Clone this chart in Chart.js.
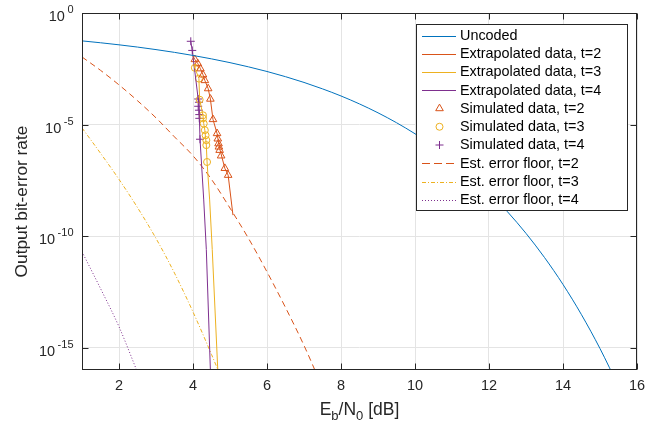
<!DOCTYPE html>
<html>
<head>
<meta charset="utf-8">
<script src="https://cdn.jsdelivr.net/npm/chart.js@4.4.1/dist/chart.umd.min.js"></script>
<style>
html,body{margin:0;padding:0;background:#fff;}
canvas{display:block;}
</style>
</head>
<body>
<canvas id="c" width="667" height="424"></canvas>
<script>
// ---------------- data ----------------
const xTicks = [2, 4, 6, 8, 10, 12, 14, 16];
const yTickExponents = [0, -5, -10, -15];
const xTitle = ['E', 'b', '/N', '0', ' [dB]'];
const yTitle = 'Output bit-error rate';

const uncodedX = [1,1.5,2,2.5,3,3.5,4,4.5,5,5.5,6,6.5,7,7.5,8,8.5,9,9.5,10,10.5,11,11.5,12,12.5,13,13.5,14,14.5,15,15.5];
const uncodedY = [5.63e-2,4.64e-2,3.75e-2,2.97e-2,2.29e-2,1.72e-2,1.25e-2,8.8e-3,5.95e-3,3.86e-3,2.39e-3,1.40e-3,7.73e-4,3.98e-4,1.91e-4,8.4e-5,3.36e-5,1.21e-5,3.87e-6,1.08e-6,2.61e-7,5.3e-8,9.01e-9,1.23e-9,1.33e-10,1.1e-11,6.81e-13,3.0e-14,9.12e-16,1.85e-17];

const extrap2X = [3.99,4.05,4.13,4.20,4.27,4.32,4.41,4.47,4.54,4.65,4.72,4.86,4.95,5.08];
const extrap2Y = [1.26e-2,8.3e-3,5.4e-3,3.2e-3,1.7e-3,9.5e-4,4.1e-4,1.4e-4,1.7e-5,4.0e-6,8.5e-7,1.1e-7,5.4e-8,8.7e-10];

const extrap3X = [4.03,4.05,4.16,4.18,4.27,4.29,4.32,4.36,4.38,4.45,4.52,4.67,4.69];
const extrap3Y = [5.0e-3,3.5e-3,1.15e-3,1.3e-4,2.6e-5,1.1e-5,5.6e-6,1.2e-6,2.1e-7,4.2e-9,2.5e-11,1e-16,5e-17];

const extrap4X = [3.94,3.98,4.14,4.16,4.19,4.29,4.36,4.47,4.49];
const extrap4Y = [5.4e-2,2.1e-2,1.4e-4,1.0e-4,2.2e-6,4.2e-9,2.5e-11,1e-16,1e-17];

const sim2X = [4.05,4.13,4.20,4.27,4.32,4.41,4.47,4.54,4.65,4.67,4.69,4.70,4.72,4.76,4.86,4.95];
const sim2Y = [8.3e-3,5.4e-3,3.2e-3,1.7e-3,9.5e-4,4.1e-4,1.4e-4,1.7e-5,4.0e-6,2.3e-6,1.4e-6,1.0e-6,7.1e-7,4.0e-7,1.1e-7,5.4e-8];

const sim3X = [4.05,4.16,4.18,4.27,4.27,4.29,4.32,4.34,4.36,4.36,4.38];
const sim3Y = [3.5e-3,1.15e-3,1.3e-4,2.6e-5,1.9e-5,1.1e-5,5.6e-6,3.3e-6,2.0e-6,1.2e-6,2.1e-7];

const sim4X = [3.94,3.98,4.14,4.16,4.14,4.16,4.17,4.17,4.19];
const sim4Y = [5.4e-2,2.1e-2,1.4e-4,1.0e-4,6.6e-5,4.4e-5,2.8e-5,1.9e-5,2.2e-6];

const floor2X = [1,1.5,2,2.5,3,3.5,4,4.5,5,5.5,6,6.5,7,7.5];
const floor2Y = [1.07e-2,2.7e-3,6.0e-4,1.17e-4,2.0e-5,2.8e-6,4.0e-7,3.5e-8,1.8e-9,7.9e-11,2.5e-12,6.3e-14,1.26e-15,1.6e-17];

const floor3X = [1,1.5,2,2.5,3,3.5,4,4.5,4.75];
const floor3Y = [7.1e-6,5.2e-7,3.5e-8,1.9e-9,7.9e-11,2.2e-12,4.0e-14,5.0e-16,5.0e-17];

const floor4X = [1,1.5,2,2.5];
const floor4Y = [2.0e-11,4.5e-13,8.7e-15,7.9e-17];

const labels = ['Uncoded','Extrapolated data, t=2','Extrapolated data, t=3','Extrapolated data, t=4',
  'Simulated data, t=2','Simulated data, t=3','Simulated data, t=4',
  'Est. error floor, t=2','Est. error floor, t=3','Est. error floor, t=4'];

// ---------------- styles ----------------
const C_BLUE = '#0072BD', C_RED = '#D95319', C_YEL = '#EDB120', C_PUR = '#7E2F8E';
const FONT = '"Liberation Sans", Arial, Helvetica, sans-serif';
const TXT = '#262626';

const pts = (xs, ys) => xs.map((x, i) => ({x: x, y: ys[i]}));

function lineDs(label, xs, ys, color, dash, smooth) {
  return {label, data: pts(xs, ys), showLine: true, borderColor: color, backgroundColor: color,
    borderWidth: 1, borderDash: dash || [], pointRadius: 0, tension: 0,
    cubicInterpolationMode: smooth ? 'monotone' : 'default', _legendType: 'line'};
}
function markDs(label, xs, ys, color, style, r) {
  return {label, data: pts(xs, ys), showLine: false, borderColor: color, backgroundColor: 'rgba(0,0,0,0)',
    pointStyle: style, pointRadius: r, pointBorderWidth: 1, pointBorderColor: color,
    pointBackgroundColor: 'rgba(0,0,0,0)', _legendType: 'marker'};
}

const datasets = [
  lineDs(labels[0], uncodedX, uncodedY, C_BLUE, [], true),
  lineDs(labels[1], extrap2X, extrap2Y, C_RED, [], false),
  lineDs(labels[2], extrap3X, extrap3Y, C_YEL, [], false),
  lineDs(labels[3], extrap4X, extrap4Y, C_PUR, [], false),
  markDs(labels[4], sim2X, sim2Y, C_RED, 'triangle', 4.4),
  markDs(labels[5], sim3X, sim3Y, C_YEL, 'circle', 3.5),
  markDs(labels[6], sim4X, sim4Y, C_PUR, 'cross', 4),
  lineDs(labels[7], floor2X, floor2Y, C_RED, [6, 4], true),
  lineDs(labels[8], floor3X, floor3Y, C_YEL, [4, 2, 1, 2], true),
  lineDs(labels[9], floor4X, floor4Y, C_PUR, [1, 2], true)
];
datasets[7]._legendDash = [8, 4];
datasets[8]._legendDash = [4, 2, 1, 2];
datasets[9]._legendDash = [1, 2];

function drawMarker(ctx, style, x, y, r, color) {
  ctx.save();
  ctx.strokeStyle = color; ctx.lineWidth = 1; ctx.setLineDash([]);
  ctx.beginPath();
  if (style === 'triangle') {
    for (let k = 0; k < 3; k++) {
      const a = k * 2 * Math.PI / 3;
      const px = x + Math.sin(a) * r, py = y - Math.cos(a) * r;
      if (k === 0) ctx.moveTo(px, py); else ctx.lineTo(px, py);
    }
    ctx.closePath();
  } else if (style === 'circle') {
    ctx.arc(x, y, r, 0, Math.PI * 2);
  } else {
    ctx.moveTo(x, y - r); ctx.lineTo(x, y + r);
    ctx.moveTo(x - r, y); ctx.lineTo(x + r, y);
  }
  ctx.stroke();
  ctx.restore();
}

const decor = {
  id: 'decor',
  afterDraw(chart) {
    const ctx = chart.ctx, a = chart.chartArea;
    const xs = chart.scales.x, ys = chart.scales.y;
    const L = Math.round(a.left) + 0.5, R = Math.round(a.right) - 0.5;
    const T = Math.round(a.top) + 0.5, B = Math.round(a.bottom) - 0.5;
    ctx.save();
    // box
    ctx.strokeStyle = TXT; ctx.lineWidth = 1; ctx.setLineDash([]);
    ctx.strokeRect(L, T, R - L, B - T);
    // inward ticks
    const tl = 6;
    ctx.beginPath();
    xTicks.forEach(v => {
      const px = Math.round(xs.getPixelForValue(v)) + 0.5;
      ctx.moveTo(px, B); ctx.lineTo(px, B - tl);
      ctx.moveTo(px, T); ctx.lineTo(px, T + tl);
    });
    yTickExponents.forEach(e => {
      const py = Math.round(ys.getPixelForValue(Math.pow(10, e))) + 0.5;
      ctx.moveTo(L, py); ctx.lineTo(L + tl, py);
      ctx.moveTo(R, py); ctx.lineTo(R - tl, py);
    });
    ctx.stroke();

    // x tick labels
    ctx.fillStyle = TXT;
    ctx.font = '14.5px ' + FONT;
    ctx.textAlign = 'center'; ctx.textBaseline = 'alphabetic';
    xTicks.forEach(v => ctx.fillText(String(v), xs.getPixelForValue(v), a.bottom + 20));

    // y tick labels 10^e
    yTickExponents.forEach(e => {
      const py = ys.getPixelForValue(Math.pow(10, e));
      const sup = String(e);
      ctx.font = '11px ' + FONT;
      const ws = ctx.measureText(sup).width;
      const xEnd = a.left - 8.5;
      ctx.textAlign = 'left';
      ctx.fillText(sup, xEnd - ws, py);
      ctx.font = '14.5px ' + FONT;
      ctx.textAlign = 'right';
      ctx.fillText('10', xEnd - ws - 2.5, py + 8);
    });

    // x title with subscripts
    const big = '17.5px ' + FONT, small = '13px ' + FONT;
    const parts = [[xTitle[0], big, 0], [xTitle[1], small, 4.5], [xTitle[2], big, 0], [xTitle[3], small, 4.5], [xTitle[4], big, 0]];
    let tw = 0;
    parts.forEach(p => { ctx.font = p[1]; tw += ctx.measureText(p[0]).width; });
    let cx = (a.left + a.right) / 2 - tw / 2;
    const baseY = a.bottom + 45;
    ctx.textAlign = 'left';
    parts.forEach(p => { ctx.font = p[1]; ctx.fillText(p[0], cx, baseY + p[2]); cx += ctx.measureText(p[0]).width; });

    // y title
    ctx.save();
    ctx.translate(27, (a.top + a.bottom) / 2 + 10);
    ctx.rotate(-Math.PI / 2);
    ctx.font = '17.3px ' + FONT; ctx.textAlign = 'center'; ctx.textBaseline = 'alphabetic';
    ctx.fillText(yTitle, 0, 0);
    ctx.restore();

    // legend
    const lx = 416.5, ly = 24.5, lw = 211, lh = 186;
    ctx.fillStyle = '#ffffff';
    ctx.fillRect(lx, ly, lw, lh);
    ctx.strokeStyle = TXT; ctx.lineWidth = 1;
    ctx.strokeRect(lx, ly, lw, lh);
    ctx.font = '14.4px ' + FONT; ctx.textBaseline = 'middle'; ctx.textAlign = 'left';
    chart.data.datasets.forEach((ds, i) => {
      const y = 35.5 + 18.25 * i;
      if (ds._legendType === 'line') {
        ctx.save();
        ctx.strokeStyle = ds.borderColor; ctx.lineWidth = 1;
        ctx.setLineDash(ds._legendDash || []);
        ctx.beginPath();
        ctx.moveTo(422, Math.round(y) + 0.5); ctx.lineTo(456, Math.round(y) + 0.5);
        ctx.stroke();
        ctx.restore();
      } else {
        drawMarker(ctx, ds.pointStyle, 439.5, y, ds.pointRadius, ds.borderColor);
      }
      ctx.fillStyle = '#000000';
      ctx.fillText(ds.label, 460, y + 0.5);
    });
    ctx.restore();
  }
};

new Chart(document.getElementById('c'), {
  type: 'scatter',
  data: {datasets: datasets},
  options: {
    responsive: false,
    animation: false,
    layout: {padding: {left: 82, top: 13, right: 30, bottom: 54}},
    scales: {
      x: {
        type: 'linear', min: 1, max: 16,
        afterBuildTicks: s => { s.ticks = xTicks.map(v => ({value: v})); },
        ticks: {display: false},
        grid: {color: '#e4e4e4', drawTicks: false, lineWidth: 1},
        border: {display: false}
      },
      y: {
        type: 'logarithmic', min: 1e-16, max: 1,
        afterBuildTicks: s => { s.ticks = yTickExponents.map(e => ({value: Math.pow(10, e)})); },
        ticks: {display: false},
        grid: {color: '#e4e4e4', drawTicks: false, lineWidth: 1},
        border: {display: false}
      }
    },
    plugins: {legend: {display: false}, tooltip: {enabled: false}}
  },
  plugins: [decor]
});
</script>
</body>
</html>
